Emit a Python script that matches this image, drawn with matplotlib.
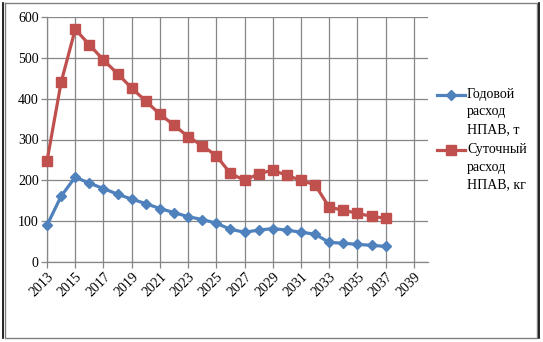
import matplotlib
matplotlib.use("Agg")
import matplotlib.pyplot as plt
from matplotlib.lines import Line2D

# данные с графика
years = list(range(2013, 2038))
annual_t = [90, 161, 208, 193, 180, 166, 154, 143, 131, 121, 111, 104, 95,
            80, 73, 78, 82, 78, 73, 68, 48, 46, 43, 41, 38]
daily_kg = [247, 440, 570, 532, 495, 461, 426, 394, 362, 335, 307, 285, 260,
            217, 200, 216, 225, 212, 200, 189, 134, 127, 119, 112, 107]
series_names = ["Годовой\nрасход\nНПАВ, т", "Суточный\nрасход\nНПАВ, кг"]
x_ticks = list(range(2013, 2040, 2))
y_ticks = [0, 100, 200, 300, 400, 500, 600]

blue = "#4F81BD"
red = "#C0504D"
grid_c = "#868686"

plt.rcParams["font.family"] = ["Liberation Serif", "DejaVu Serif"]

W, H = 543, 342
fig = plt.figure(figsize=(W / 100, H / 100), dpi=100)
ax = fig.add_axes([47 / W, (H - 262) / H, (428 - 47) / W, (262 - 17) / H])

ax.plot(years, annual_t, color=blue, lw=2.3, marker="D", ms=5.5,
        mec=blue, mfc=blue, zorder=3, clip_on=False)
ax.plot(years, daily_kg, color=red, lw=2.3, marker="s", ms=6.5,
        mec=red, mfc=red, zorder=3, clip_on=False)

ax.set_xlim(2013, 2040)
ax.set_ylim(0, 600)
ax.set_xticks(x_ticks)
ax.set_yticks(y_ticks)
ax.set_xticklabels([str(x) for x in x_ticks], rotation=45, ha="right",
                   rotation_mode="anchor", fontsize=10)
ax.set_yticklabels([str(y) for y in y_ticks], fontsize=10)
ax.grid(True, color=grid_c, lw=0.9)
ax.set_axisbelow(True)
ax.tick_params(axis="both", color=grid_c, length=4, width=0.9, pad=2)
for s in ["top", "right"]:
    ax.spines[s].set_visible(False)
for s in ["left", "bottom"]:
    ax.spines[s].set_color(grid_c)
    ax.spines[s].set_linewidth(0.9)

# легенда справа
def px(x, y):
    return x / W, 1 - y / H

entries = [(blue, "D", 5.5, 95), (red, "s", 6.5, 150)]
for (c, m, ms, yy), name in zip(entries, series_names):
    x0, y0 = px(437, yy)
    x1, _ = px(465, yy)
    xm, _ = px(451, yy)
    fig.add_artist(Line2D([x0, x1], [y0, y0], color=c, lw=2.3,
                          transform=fig.transFigure))
    fig.add_artist(Line2D([xm], [y0], color=c, marker=m, ms=ms,
                          transform=fig.transFigure))
    tx, ty = px(467, yy - 7)
    fig.text(tx, ty, name, fontsize=10, va="top", ha="left", linespacing=1.45)

# рамка вокруг диаграммы
fig.add_artist(Line2D([5 / W, 537 / W, 537 / W, 5 / W, 5 / W],
                      [1 - 3 / H, 1 - 3 / H, 1 - 338 / H, 1 - 338 / H, 1 - 3 / H],
                      color="#808080", lw=1, transform=fig.transFigure))
fig.add_artist(Line2D([2.5 / W, 2.5 / W], [1 - 3 / H, 1 - 338 / H],
                      color="black", lw=1.2, transform=fig.transFigure))
fig.add_artist(Line2D([538.5 / W, 538.5 / W], [1 - 3 / H, 1 - 338 / H],
                      color="black", lw=1.2, transform=fig.transFigure))

fig.savefig("out.png", dpi=100)
